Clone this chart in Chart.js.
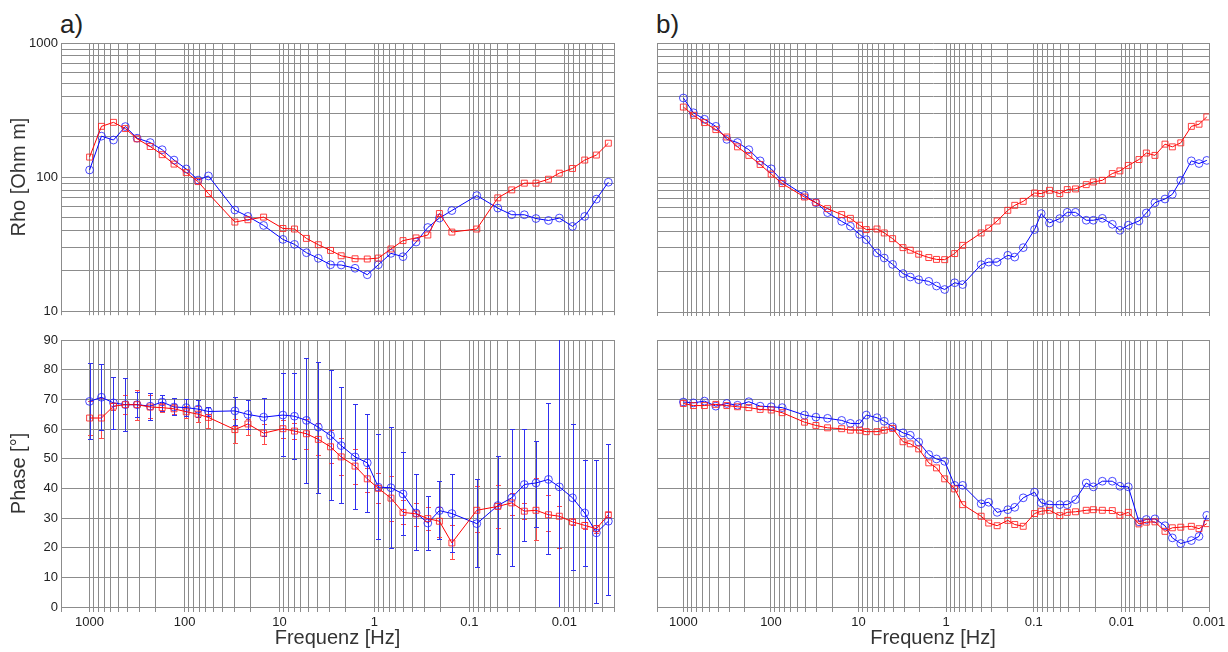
<!DOCTYPE html>
<html><head><meta charset="utf-8">
<script src="https://cdn.jsdelivr.net/npm/chart.js@4.4.1/dist/chart.umd.min.js"></script>
<style>
html,body{margin:0;padding:0;background:#fff;width:1228px;height:652px;overflow:hidden;position:relative;}
canvas{position:absolute;}
.lbl{position:absolute;font-family:"Liberation Sans",Arial,sans-serif;font-size:26px;color:#222;line-height:1;}
</style></head><body>
<div class="lbl" style="left:60px;top:11px">a)</div>
<div class="lbl" style="left:656px;top:11px">b)</div>
<canvas id="ra" width="630" height="322" style="left:0;top:0"></canvas>
<canvas id="pa" width="630" height="330" style="left:0;top:322px"></canvas>
<canvas id="rb" width="600" height="322" style="left:630px;top:0"></canvas>
<canvas id="pb" width="600" height="330" style="left:630px;top:322px"></canvas>
<script>
// ---------- tick labels ----------
const xDecadeValues = [1000, 100, 10, 1, 0.1, 0.01, 0.001];
const xDecadeLabels = ['1000', '100', '10', '1', '0.1', '0.01', '0.001'];
const rhoDecadeValues = [10, 100, 1000];
const rhoDecadeLabels = ['10', '100', '1000'];
const phaseTickValues = [0, 10, 20, 30, 40, 50, 60, 70, 80, 90];
const phaseTickLabels = ['0', '10', '20', '30', '40', '50', '60', '70', '80', '90'];

// ---------- panel a) ----------
const freqA = [1000, 750, 560, 420, 316, 230, 172, 129, 96, 72, 56, 29.5, 21.5, 14.7, 9.2, 6.95, 5.2, 3.9, 2.9, 2.24,
  1.6, 1.19, 0.91, 0.67, 0.5, 0.364, 0.274, 0.207, 0.153, 0.0836, 0.0502, 0.0358, 0.0264, 0.0199, 0.0147, 0.0113, 0.0082, 0.0061, 0.0046, 0.00344];
const rhoA_blue = [113, 202, 189, 238, 195, 181, 160, 134, 115, 95, 102, 56.8, 50.9, 43.6, 34.3, 31.5, 27.3, 24.8, 22.2, 22.1,
  20.9, 18.7, 22.2, 27.0, 25.5, 32.8, 42.1, 49.5, 56.3, 72.8, 58.7, 52.4, 52.4, 49.1, 47.5, 49.5, 42.9, 50.9, 68.5, 91.6];
const rhoA_red = [141, 239, 256, 230, 193, 169, 147, 125, 108, 92.6, 75.4, 46.2, 48.1, 50.3, 41.4, 41.0, 34.9, 31.3, 28.4, 25.9,
  24.6, 24.5, 24.9, 29.1, 33.6, 35.2, 37.0, 53.5, 38.9, 41.0, 70.0, 80.3, 90.1, 90.1, 96.4, 107, 116, 134, 146, 179];
const phaseA_blue = [69.3, 70.7, 68.8, 68.2, 68.2, 67.7, 69.1, 67.4, 67.2, 66.7, 65.9, 66.1, 64.9, 64.0, 64.7, 64.3, 62.9, 60.6, 57.8, 54.4,
  50.6, 48.6, 40.4, 40.2, 38.1, 31.7, 28.3, 32.5, 31.5, 28.1, 34.2, 36.8, 41.3, 41.8, 43.0, 40.5, 36.8, 31.7, 25.0, 28.9];
const phaseA_red = [63.7, 63.7, 67.7, 68.2, 68.2, 67.4, 67.2, 66.8, 65.8, 65.0, 63.9, 59.8, 61.7, 58.6, 60.1, 59.3, 58.4, 56.5, 54.0, 50.6,
  47.5, 43.2, 40.0, 36.7, 31.9, 31.4, 29.8, 28.9, 21.6, 32.6, 33.9, 35.1, 32.3, 32.6, 31.1, 30.6, 28.7, 27.5, 26.4, 31.1];
const phaseA_blue_hi = [82.3, 81.9, 77.4, 77.1, 72.6, 72.2, 71.3, 70.3, 70.2, 69.8, 67.5, 70.7, 69.7, 70.4, 78.8, 79.0, 83.8, 82.7, 80.0, 74.3,
  68.5, 65.2, 58.2, 60.7, 52.2, 45.0, 37.4, 42.5, 44.7, 43.2, 50.9, 59.9, 59.9, 56.0, 68.6, 100, 61.8, 49.5, 49.7, 54.8];
const phaseA_blue_lo = [56.5, 59.8, 59.9, 59.3, 64.2, 63.2, 66.0, 64.6, 64.3, 64.0, 64.3, 61.5, 60.0, 57.6, 50.8, 49.9, 41.8, 38.5, 36.2, 35.1,
  33.0, 32.0, 22.9, 19.9, 24.4, 19.1, 19.3, 22.9, 18.5, 13.4, 17.9, 13.8, 22.2, 26.9, 17.9, -5, 12.6, 13.8, 1.3, 4.2];
const phaseA_red_hi = [69.6, 70.3, 68.7, 71.3, 73.1, 71.3, 68.7, 68.3, 67.9, 67.6, 67.4, 63.5, 63.4, 61.8, 63.0, 62.0, 63.5, 62.1, 59.8, 57.0,
  53.3, 46.9, 45.2, 44.3, 36.2, 35.1, 33.7, 33.7, 27.8, 40.9, 41.2, 38.5, 34.9, 43.5, 37.6, 34.0, 29.7, 28.6, 27.8, 32.0];
const phaseA_red_lo = [57.9, 56.9, 66.5, 64.9, 63.0, 63.8, 65.7, 64.9, 63.8, 62.3, 60.4, 55.3, 58.1, 55.1, 57.0, 56.5, 53.4, 51.4, 48.6, 44.6,
  41.6, 38.7, 34.9, 29.1, 28.1, 27.4, 25.9, 23.6, 16.2, 25.2, 26.7, 31.1, 29.5, 22.5, 25.5, 20.0, 27.8, 26.4, 24.9, 30.2];

// ---------- panel b) ----------
const freqB = [1000, 768, 575, 426, 319, 241, 179, 133, 99.5, 74.5, 41.4, 30.7, 22.6, 15.6, 12.4, 9.75, 8.17, 6.16, 5.09, 4.09,
  3.11, 2.57, 2.06, 1.58, 1.29, 1.04, 0.80, 0.648, 0.399, 0.327, 0.262, 0.198, 0.165, 0.132, 0.098, 0.0823, 0.0662, 0.0505, 0.0415, 0.0334,
  0.0252, 0.0209, 0.0165, 0.0127, 0.0104, 0.00834, 0.0063, 0.00519, 0.00414, 0.00318, 0.00262, 0.0021, 0.00159, 0.0013, 0.00106];
const rhoB_blue = [390, 303, 271, 240, 192, 182, 161, 133, 116, 94.2, 73.7, 65.0, 54.8, 47.2, 43.4, 37.8, 34.5, 27.5, 25.2, 22.6,
  19.3, 18.2, 17.4, 16.9, 15.6, 14.7, 16.5, 16.0, 22.5, 23.5, 23.5, 26.4, 25.6, 30.1, 41.0, 53.9, 45.9, 49.5, 55.1, 55.1,
  48.1, 48.1, 49.7, 44.9, 40.5, 44.2, 47.5, 54.5, 65.0, 69.2, 75.0, 95.3, 133, 127, 134];
const rhoB_red = [334, 290, 256, 227, 200, 169, 146, 125, 106, 90.1, 71.6, 65.0, 58.7, 53.0, 49.7, 44.2, 41.0, 41.4, 38.7, 35.1,
  30.1, 28.8, 26.9, 25.4, 24.6, 24.5, 27.2, 31.3, 38.7, 42.1, 47.5, 57.0, 62.1, 66.5, 76.7, 75.9, 80.3, 75.9, 81.3, 82.2,
  88.5, 92.6, 95.3, 107, 112, 123, 136, 152, 146, 177, 169, 181, 240, 249, 282];
const phaseB_blue = [69.1, 68.8, 69.4, 67.7, 68.6, 68.0, 69.2, 67.7, 67.5, 67.2, 64.7, 64.0, 63.6, 62.9, 61.9, 61.8, 64.7, 63.8, 62.6, 60.7,
  58.7, 57.9, 55.6, 51.4, 49.9, 49.1, 41.0, 41.0, 34.8, 35.3, 31.9, 32.8, 33.6, 36.8, 38.7, 35.1, 34.5, 34.5, 34.5, 36.2,
  41.8, 40.5, 42.4, 42.4, 40.7, 40.5, 28.7, 29.5, 29.7, 27.4, 23.3, 21.4, 22.4, 23.8, 30.9];
const phaseB_red = [68.6, 67.9, 67.9, 68.3, 67.9, 67.5, 67.2, 66.6, 66.4, 65.5, 62.3, 61.2, 60.4, 60.1, 59.6, 59.6, 59.1, 59.1, 59.6, 60.2,
  55.7, 55.0, 53.3, 48.6, 46.9, 43.2, 39.8, 34.5, 30.6, 28.3, 27.4, 29.2, 27.8, 27.2, 31.5, 32.3, 32.6, 30.8, 31.9, 32.1,
  32.6, 32.8, 32.6, 32.5, 30.9, 31.9, 28.0, 28.6, 28.7, 25.5, 26.7, 26.9, 27.2, 26.4, 28.1];

// ---------- style ----------
const FONT = '"Liberation Sans", Arial, Helvetica, sans-serif';
const GRID = '#8c8c8c';
const TXT = '#222222';
const TITLE = '#333333';
const BLUE = '#0000ff';
const RED = '#ff0000';

function makeLogTicks(min, max, decVals, decLabs) {
  const out = [];
  for (let e = -4; e <= 4; e++) {
    for (let k = 1; k <= 9; k++) {
      const v = +(k * Math.pow(10, e)).toPrecision(8);
      if (v < min * 0.9999 || v > max * 1.0001) continue;
      const j = decVals.findIndex(d => Math.abs(d - v) / d < 1e-6);
      out.push({value: v, major: j >= 0, lab: j >= 0 ? decLabs[j] : ''});
    }
  }
  return out;
}
function makeLinTicks(vals, labs) {
  return vals.map((v, i) => ({value: v, major: true, lab: labs[i]}));
}
const labelCb = (v, i, t) => (t[i] && t[i].lab) || '';

function xScale(min, max, height, showLabels, tickLen, title) {
  return {
    type: 'logarithmic', position: 'bottom', reverse: true, min, max,
    afterBuildTicks: s => { s.ticks = makeLogTicks(min, max, xDecadeValues, xDecadeLabels).reverse(); },
    afterFit: s => { s.height = height; },
    grid: {color: GRID, lineWidth: 1, drawTicks: true, tickLength: tickLen, tickColor: GRID, tickWidth: 1},
    border: {display: true, color: GRID, width: 1},
    ticks: {display: showLabels, autoSkip: false, maxRotation: 0, minRotation: 0, padding: 3,
      color: TXT, font: {family: FONT, size: 13}, callback: labelCb},
    title: title ? {display: true, text: title, color: TITLE, font: {family: FONT, size: 20}, padding: {top: 0, bottom: 2}} : {display: false}
  };
}
function yScale(kind, width, showLabels, title) {
  const base = {
    position: 'left',
    afterFit: s => { s.width = width; },
    grid: {color: GRID, lineWidth: 1, drawTicks: false},
    border: {display: true, color: GRID, width: 1},
    ticks: {display: showLabels, autoSkip: false, padding: 3, color: TXT, font: {family: FONT, size: 13}, callback: labelCb},
    title: title ? {display: true, text: title, color: TITLE, font: {family: FONT, size: 20}, padding: {top: 7, bottom: 0}} : {display: false}
  };
  if (kind === 'rho') {
    return Object.assign(base, {type: 'logarithmic', min: 10, max: 1000,
      afterBuildTicks: s => { s.ticks = makeLogTicks(10, 1000, rhoDecadeValues, rhoDecadeLabels); }});
  }
  return Object.assign(base, {type: 'linear', min: 0, max: 90,
    afterBuildTicks: s => { s.ticks = makeLinTicks(phaseTickValues, phaseTickLabels); }});
}
function series(freq, vals, color, style) {
  return {
    data: freq.map((f, i) => ({x: f, y: vals[i]})),
    borderColor: color, borderWidth: 1, tension: 0, fill: false,
    pointStyle: style, pointRadius: style === 'rect' ? 4.2 : 3.9,
    pointBorderColor: style === 'rect' ? 'rgba(255,30,30,0.85)' : 'rgba(30,30,255,0.8)',
    pointBackgroundColor: 'rgba(0,0,0,0)', pointBorderWidth: 1, pointHoverRadius: 0
  };
}
function errorBars(sets) {
  return {
    id: 'errbars',
    beforeDatasetsDraw(chart) {
      const {ctx, chartArea: a} = chart;
      const xs = chart.scales.x, ys = chart.scales.y;
      ctx.save();
      ctx.beginPath(); ctx.rect(a.left, a.top, a.right - a.left, a.bottom - a.top); ctx.clip();
      ctx.lineWidth = 1;
      for (const s of sets) {
        ctx.strokeStyle = s.color;
        for (let i = 0; i < s.x.length; i++) {
          const px = Math.round(xs.getPixelForValue(s.x[i])) + 0.5;
          const yh = Math.round(ys.getPixelForValue(s.hi[i])) + 0.5;
          const yl = Math.round(ys.getPixelForValue(s.lo[i])) + 0.5;
          ctx.beginPath();
          ctx.moveTo(px, yh); ctx.lineTo(px, yl);
          ctx.moveTo(px - 2.5, yh); ctx.lineTo(px + 2.5, yh);
          ctx.moveTo(px - 2.5, yl); ctx.lineTo(px + 2.5, yl);
          ctx.stroke();
        }
      }
      ctx.restore();
    }
  };
}
function make(id, datasets, scales, padding, plugins) {
  return new Chart(document.getElementById(id), {
    type: 'line',
    data: {datasets},
    options: {
      responsive: false, maintainAspectRatio: false, animation: false, devicePixelRatio: 1, events: [],
      layout: {padding},
      plugins: {legend: {display: false}, tooltip: {enabled: false}, title: {display: false}},
      scales
    },
    plugins: plugins || []
  });
}

// a) Rho
make('ra', [series(freqA, rhoA_red, RED, 'rect'), series(freqA, rhoA_blue, BLUE, 'circle')],
  {x: xScale(0.003, 2000, 10, false, 4, null), y: yScale('rho', 61, true, 'Rho [Ohm m]')},
  {top: 43, right: 16, left: 0, bottom: 0});
// a) Phase (red bars first, blue bars on top)
make('pa', [series(freqA, phaseA_red, RED, 'rect'), series(freqA, phaseA_blue, BLUE, 'circle')],
  {x: xScale(0.003, 2000, 45, true, 5, 'Frequenz [Hz]'), y: yScale('phase', 61, true, 'Phase [°]')},
  {top: 18, right: 16, left: 0, bottom: 0},
  [errorBars([
    {x: freqA, hi: phaseA_red_hi, lo: phaseA_red_lo, color: '#ff4a4a'},
    {x: freqA, hi: phaseA_blue_hi, lo: phaseA_blue_lo, color: '#3030ee'}
  ])]);
// b) Rho
make('rb', [series(freqB, rhoB_red, RED, 'rect'), series(freqB, rhoB_blue, BLUE, 'circle')],
  {x: xScale(0.001, 2000, 10, false, 4, null), y: yScale('rho', 27, false, null)},
  {top: 43, right: 21, left: 0, bottom: 0});
// b) Phase
make('pb', [series(freqB, phaseB_red, RED, 'rect'), series(freqB, phaseB_blue, BLUE, 'circle')],
  {x: xScale(0.001, 2000, 45, true, 5, 'Frequenz [Hz]'), y: yScale('phase', 27, false, null)},
  {top: 18, right: 21, left: 0, bottom: 0});
</script>
</body></html>
